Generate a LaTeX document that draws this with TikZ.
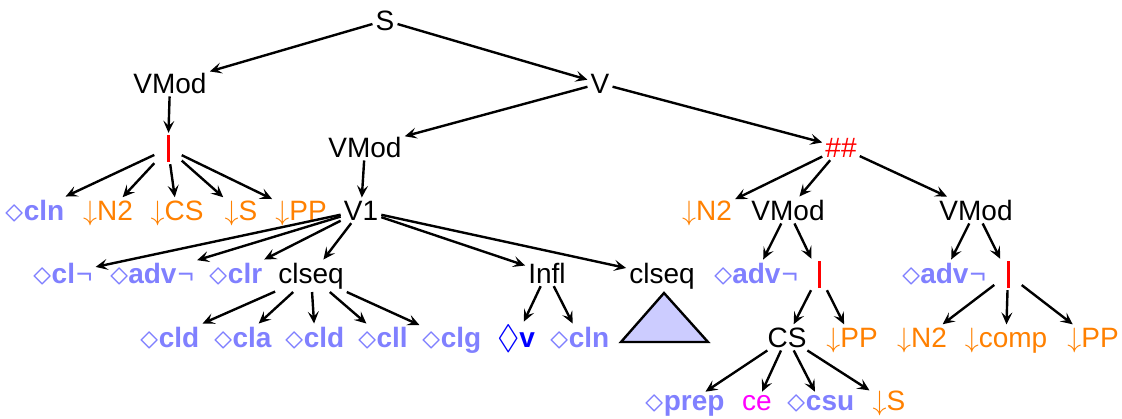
\RequirePackage{fix-cm}
\documentclass[tikz,border=0pt]{standalone}
\usepackage{fontspec}
\usepackage{amssymb}
\usepackage{graphicx}
\setmainfont{Liberation Sans}
\usetikzlibrary{arrows.meta}
\definecolor{lblue}{HTML}{8080FF}
\definecolor{orng}{HTML}{FF8000}
\definecolor{trifill}{HTML}{CCCCFF}
\definecolor{mag}{HTML}{FF00FF}
\newcommand{\dmd}{\raisebox{-2pt}{\scalebox{1.3}{$\diamond$}}}
\newcommand{\anc}[1]{{\color{lblue}\dmd\textbf{#1}}}
\newcommand{\ancneg}[1]{{\color{lblue}\dmd\textbf{#1}\mdseries\kern1pt ¬}}
\newcommand{\subst}[1]{{\color{orng}$\downarrow$#1}}
\newcommand{\barrule}{\textcolor{red}{\rule[-5pt]{3pt}{27pt}}}
\tikzset{
  every node/.style={font=\fontsize{28}{32}\selectfont, inner sep=3pt, anchor=base},
  barnode/.style={inner xsep=12pt, inner ysep=2pt},
  arr/.style={-{Stealth[length=12pt,width=11pt,inset=5pt]}, line width=2.4pt},
}
\begin{document}
\begin{tikzpicture}[x=1pt,y=-1pt]
\useasboundingbox (0,0) rectangle (1122,418);
% row 1-3
\node (S) at (385,30) {S};
\node (vm1) at (170,93) {VMod};
\node (V) at (600,93) {V};
\node[barnode] (b1) at (168,157) {\barrule};
\node (vm2) at (365,157) {VMod};
\node[text=red] (hh) at (841,157) {\#\#};
% row 4
\node (cln1) at (35,220) {\anc{cln}};
\node (n2a) at (108,220) {\subst{N2}};
\node (csa) at (177,220) {\subst{CS}};
\node (sa) at (241,220) {\subst{S}};
\node (ppa) at (301,220) {\subst{PP}};
\node (v1) at (361,220) {V1};
\node (n2b) at (707,220) {\subst{N2}};
\node (vm3) at (788,220) {VMod};
\node (vm4) at (976,220) {VMod};
% row 5
\node (clneg) at (63,283) {\ancneg{cl}};
\node (adv1) at (152,283) {\ancneg{adv}};
\node (clr) at (236,283) {\anc{clr}};
\node (cq1) at (311,283) {clseq};
\node (infl) at (547,283) {Infl};
\node (cq2) at (662,283) {clseq};
\node (adv2) at (756,283) {\ancneg{adv}};
\node[barnode] (b2) at (819,283) {\barrule};
\node (adv3) at (944,283) {\ancneg{adv}};
\node[barnode] (b3) at (1008,283) {\barrule};
% row 6
\node (cld1) at (170,347) {\anc{cld}};
\node (cla) at (243,347) {\anc{cla}};
\node (cld2) at (315,347) {\anc{cld}};
\node (cll) at (383,347) {\anc{cll}};
\node (clg) at (452,347) {\anc{clg}};
\node (vv) at (516,347) {{\color{blue}\raisebox{-1pt}{\scalebox{1.2}{$\lozenge$}}\textbf{v}}};
\node (cln2) at (580,347) {\anc{cln}};
\node (cs) at (787,347) {CS};
\node (ppb) at (852,347) {\subst{PP}};
\node (n2c) at (922,347) {\subst{N2}};
\node (comp) at (1006,347) {\subst{comp}};
\node (ppc) at (1093,347) {\subst{PP}};
% row 7
\node (prep) at (685,410) {\anc{prep}};
\node[text=mag] (ce) at (757,410) {ce};
\node (csu) at (821,410) {\anc{csu}};
\node (sb) at (889,410) {\subst{S}};
% triangle
\draw[line width=2.4pt, fill=trifill, line join=miter] (664,293) -- (621,342) -- (708,342) -- cycle;
% edges
\foreach \a/\b in {S/vm1, S/V, vm1/b1, b1/cln1, b1/n2a, b1/csa, b1/sa, b1/ppa,
  V/vm2, V/hh, vm2/v1, v1/clneg, v1/adv1, v1/clr, v1/cq1, v1/infl, v1/cq2,
  cq1/cld1, cq1/cla, cq1/cld2, cq1/cll, cq1/clg, infl/vv, infl/cln2,
  hh/n2b, hh/vm3, hh/vm4, vm3/adv2, vm3/b2, b2/cs, b2/ppb,
  cs/prep, cs/ce, cs/csu, cs/sb, vm4/adv3, vm4/b3, b3/n2c, b3/comp, b3/ppc}
  \draw[arr] (\a) -- (\b);
\end{tikzpicture}
\end{document}
